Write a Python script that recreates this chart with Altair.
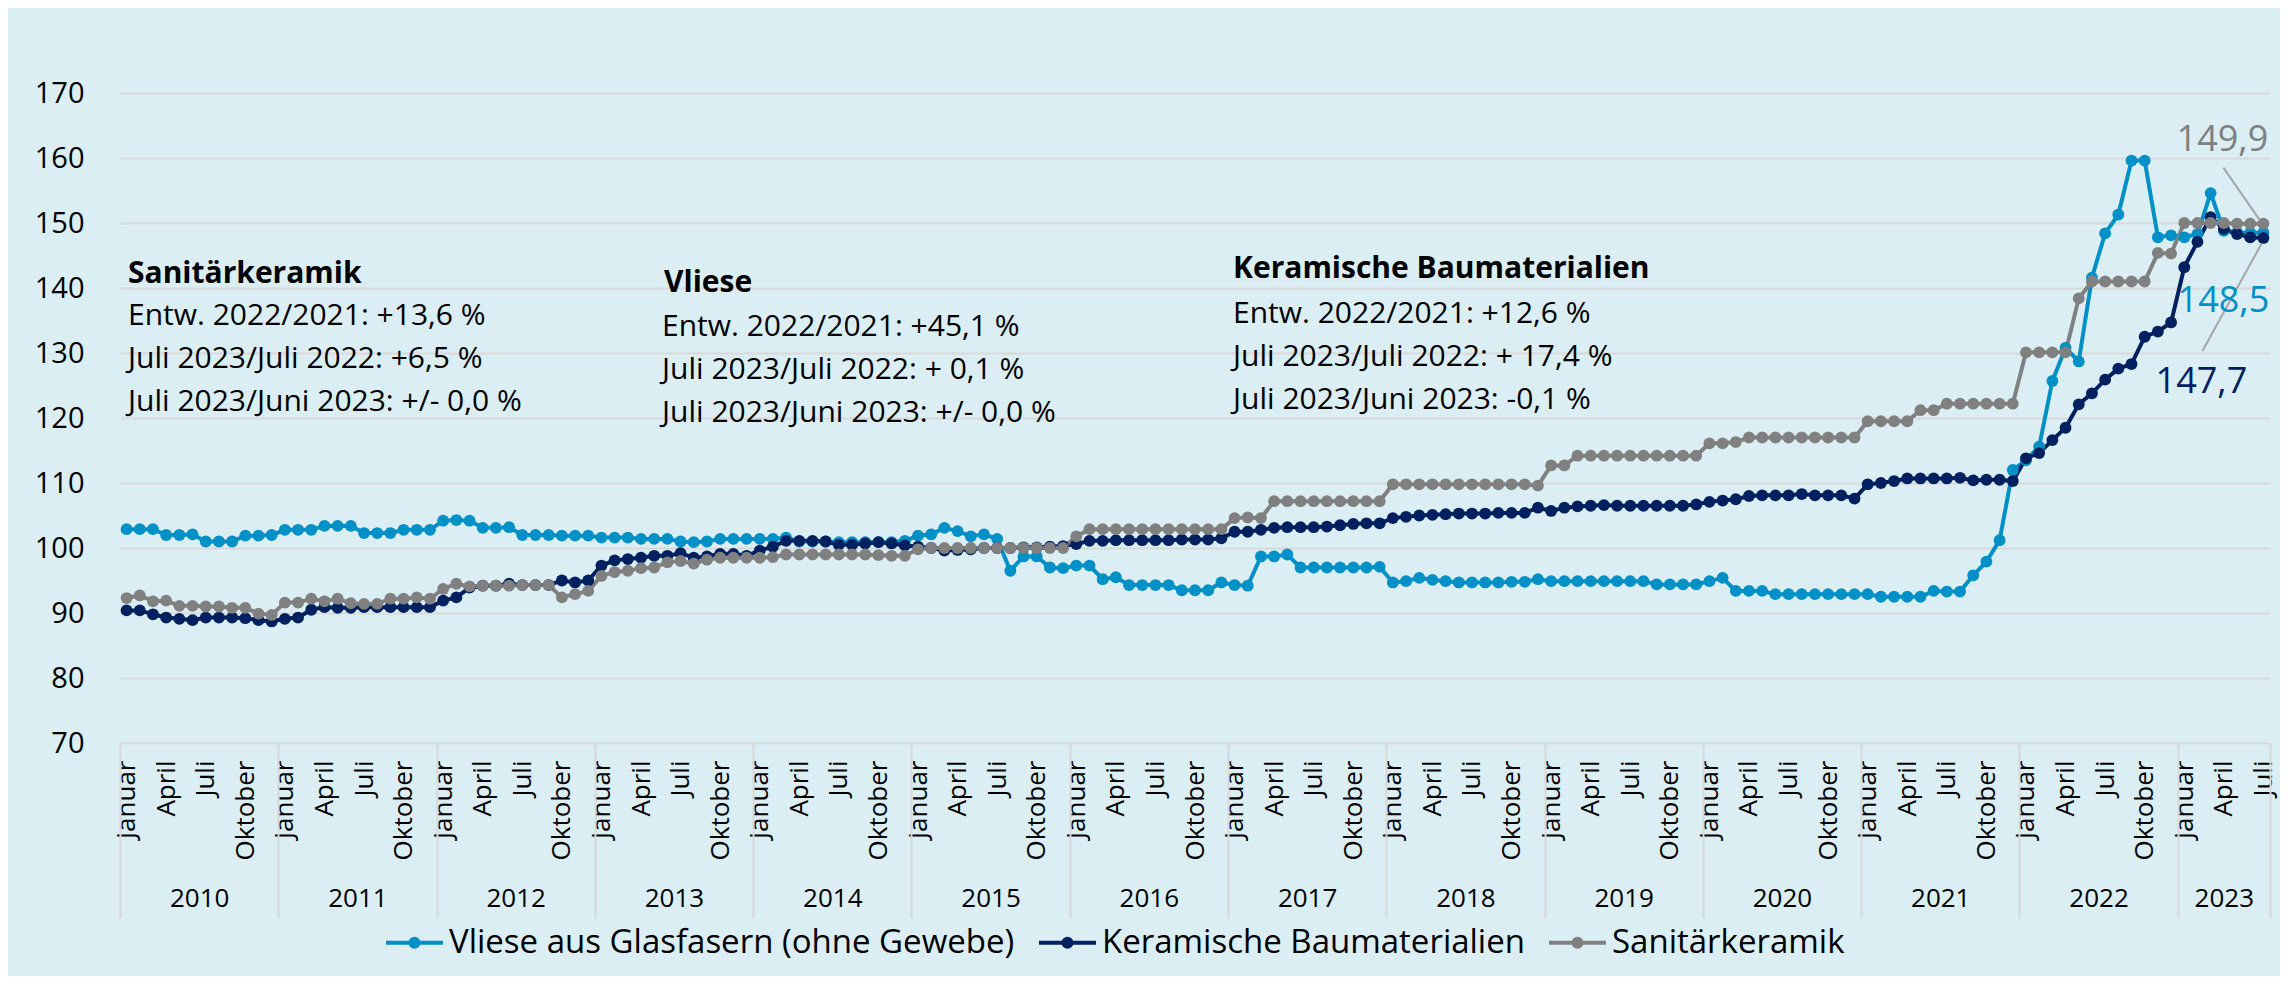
import altair as alt
import pandas as pd

# ---------------- data ----------------
month_names = ["Januar", "Februar", "März", "April", "Mai", "Juni", "Juli",
               "August", "September", "Oktober", "November", "Dezember"]
years = list(range(2010, 2024))
series_names = ["Vliese aus Glasfasern (ohne Gewebe)", "Keramische Baumaterialien", "Sanitärkeramik"]
series_colors = ["#0090C8", "#002060", "#808080"]
y_ticks = [70, 80, 90, 100, 110, 120, 130, 140, 150, 160, 170]

vliese = [
    102.9, 102.9, 102.9, 102.0, 102.0, 102.1, 101.0, 101.0, 101.0, 101.9, 101.9, 102.0,
    102.8, 102.8, 102.8, 103.4, 103.4, 103.4, 102.3, 102.3, 102.3, 102.8, 102.8, 102.8,
    104.2, 104.3, 104.2, 103.1, 103.1, 103.2, 102.0, 102.0, 102.0, 101.9, 101.9, 101.9,
    101.6, 101.6, 101.6, 101.4, 101.4, 101.4, 101.0, 100.9, 101.0, 101.4, 101.4, 101.4,
    101.4, 101.4, 101.6, 101.0, 101.0, 101.0, 100.9, 100.9, 100.9, 100.9, 100.9, 101.1,
    101.9, 102.1, 103.1, 102.6, 101.8, 102.1, 101.4, 96.5, 98.7, 98.7, 97.0, 96.9,
    97.3, 97.3, 95.2, 95.5, 94.3, 94.3, 94.3, 94.3, 93.5, 93.5, 93.5, 94.7,
    94.3, 94.2, 98.7, 98.7, 99.0, 97.0, 97.0, 97.0, 97.0, 97.0, 97.0, 97.1,
    94.7, 94.9, 95.4, 95.1, 94.9, 94.7, 94.7, 94.7, 94.7, 94.8, 94.8, 95.2,
    94.9, 94.9, 94.9, 94.9, 94.9, 94.9, 94.9, 94.9, 94.4, 94.4, 94.4, 94.4,
    94.9, 95.4, 93.4, 93.4, 93.4, 92.9, 92.9, 92.9, 92.9, 92.9, 92.9, 92.9,
    92.9, 92.5, 92.5, 92.5, 92.5, 93.4, 93.3, 93.3, 95.8, 97.9, 101.2, 112.0,
    113.5, 115.6, 125.7, 130.8, 128.7, 141.6, 148.4, 151.3, 159.6, 159.6, 147.8, 148.1,
    147.8, 148.3, 154.6, 148.8, 148.5, 148.5, 148.5,
]

keramik = [
    90.4, 90.4, 89.8, 89.3, 89.1, 88.9, 89.3, 89.3, 89.3, 89.2, 88.9, 88.7,
    89.1, 89.3, 90.5, 90.9, 90.8, 90.8, 90.9, 90.9, 90.9, 90.9, 90.9, 90.9,
    91.9, 92.4, 93.9, 94.2, 94.2, 94.5, 94.3, 94.3, 94.3, 95.0, 94.7, 95.0,
    97.3, 98.1, 98.3, 98.5, 98.8, 98.8, 99.2, 98.5, 98.7, 99.1, 99.1, 98.8,
    99.6, 100.2, 101.1, 101.1, 101.1, 101.0, 100.5, 100.5, 100.7, 100.9, 100.7, 100.4,
    100.2, 100.0, 99.6, 99.7, 99.8, 100.0, 100.0, 100.0, 100.1, 100.1, 100.2, 100.3,
    100.6, 101.1, 101.1, 101.2, 101.2, 101.2, 101.2, 101.2, 101.3, 101.3, 101.3, 101.5,
    102.5, 102.5, 102.8, 103.1, 103.2, 103.2, 103.2, 103.3, 103.5, 103.7, 103.8, 103.8,
    104.6, 104.8, 105.0, 105.1, 105.2, 105.3, 105.3, 105.3, 105.4, 105.4, 105.4, 106.2,
    105.7, 106.2, 106.4, 106.5, 106.6, 106.5, 106.5, 106.5, 106.5, 106.5, 106.5, 106.7,
    107.1, 107.3, 107.5, 108.0, 108.1, 108.1, 108.1, 108.3, 108.1, 108.1, 108.1, 107.6,
    109.8, 110.0, 110.3, 110.7, 110.7, 110.7, 110.7, 110.8, 110.4, 110.5, 110.5, 110.3,
    113.8, 114.6, 116.6, 118.5, 122.1, 123.8, 125.9, 127.6, 128.3, 132.5, 133.3, 134.7,
    143.2, 147.1, 150.9, 149.1, 148.3, 147.8, 147.7,
]

sanitaer = [
    92.3, 92.7, 91.8, 91.9, 91.1, 91.1, 91.0, 91.0, 90.8, 90.8, 89.9, 89.7,
    91.6, 91.6, 92.2, 91.8, 92.2, 91.5, 91.4, 91.4, 92.2, 92.2, 92.4, 92.2,
    93.7, 94.5, 94.1, 94.2, 94.2, 94.2, 94.3, 94.3, 94.3, 92.4, 92.9, 93.4,
    95.7, 96.3, 96.5, 96.9, 97.0, 97.8, 98.0, 97.6, 98.2, 98.5, 98.5, 98.5,
    98.5, 98.6, 99.0, 99.0, 99.0, 99.0, 99.0, 99.0, 99.0, 98.9, 98.8, 98.8,
    99.8, 100.0, 100.0, 100.0, 100.0, 100.0, 100.0, 100.0, 100.0, 100.0, 100.0, 100.0,
    101.8, 102.9, 102.9, 102.9, 102.9, 102.9, 102.9, 102.9, 102.9, 102.9, 102.9, 102.9,
    104.6, 104.7, 104.6, 107.2, 107.2, 107.2, 107.2, 107.2, 107.2, 107.2, 107.2, 107.2,
    109.8, 109.8, 109.8, 109.8, 109.8, 109.8, 109.8, 109.8, 109.8, 109.8, 109.8, 109.6,
    112.7, 112.7, 114.2, 114.2, 114.2, 114.2, 114.2, 114.2, 114.2, 114.2, 114.2, 114.2,
    116.1, 116.1, 116.3, 117.0, 117.0, 117.0, 117.0, 117.0, 117.0, 117.0, 117.0, 117.0,
    119.5, 119.5, 119.5, 119.5, 121.2, 121.2, 122.2, 122.2, 122.2, 122.2, 122.2, 122.2,
    130.1, 130.1, 130.1, 130.1, 138.4, 141.0, 141.0, 141.0, 141.0, 141.0, 145.4, 145.3,
    150.0, 150.0, 150.0, 150.0, 149.9, 149.9, 149.9,
]

anno_sanitaer = ["Sanitärkeramik",
                 "Entw. 2022/2021: +13,6 %",
                 "Juli 2023/Juli 2022: +6,5 %",
                 "Juli 2023/Juni 2023: +/- 0,0 %"]
anno_vliese = ["Vliese",
               "Entw. 2022/2021: +45,1 %",
               "Juli 2023/Juli 2022: + 0,1 %",
               "Juli 2023/Juni 2023: +/- 0,0 %"]
anno_keramik = ["Keramische Baumaterialien",
                "Entw. 2022/2021: +12,6 %",
                "Juli 2023/Juli 2022: + 17,4 %",
                "Juli 2023/Juni 2023: -0,1 %"]

# ---------------- tables ----------------
n = len(vliese)
rows = []
for name, vals in zip(series_names, [vliese, keramik, sanitaer]):
    for i, v in enumerate(vals):
        rows.append({"idx": i, "Jahr": years[i // 12], "Monat": month_names[i % 12],
                     "Wert": v, "Reihe": name})
df = pd.DataFrame(rows)

last = pd.DataFrame({
    "idx": [n - 1] * 3,
    "Wert": [vliese[-1], keramik[-1], sanitaer[-1]],
    "Reihe": series_names,
})
last["Label"] = last["Wert"].map(lambda v: f"{v:.1f}".replace(".", ","))

FONT = "Open Sans"
GRID = "#D9D9D9"

xscale = alt.Scale(domain=[-0.5, n - 0.5], nice=False, zero=False)
yscale = alt.Scale(domain=[70, 170], nice=False, zero=False)
color_scale = alt.Scale(domain=series_names, range=series_colors)

month_js = "[" + ",".join(f"'{m}'" for m in month_names) + "]"
year_js = "[" + ",".join(f"'{y}'" for y in years) + "]"

month_axis = alt.Axis(orient="bottom", values=[i for i in range(n) if i % 3 == 0],
                      labelExpr=f"{month_js}[datum.value % 12]",
                      labelAngle=-90, labelAlign="right", labelBaseline="middle",
                      labelPadding=17, labelFont=FONT, labelFontSize=26, labelColor="#000000",
                      labelOverlap=False, ticks=False, domain=False, grid=False, title=None)

sep_values = [12 * k - 0.5 for k in range(len(years))] + [n - 0.5]
sep_axis = alt.Axis(orient="bottom", values=sep_values, labels=False, ticks=True,
                    tickSize=175, tickColor=GRID, tickWidth=2, domain=False, grid=False,
                    title=None)

year_centers = [(12 * k + min(12 * k + 12, n)) / 2 - 0.5 for k in range(len(years))]
year_axis = alt.Axis(orient="bottom", values=year_centers,
                     labelExpr=f"{year_js}[floor(datum.value / 12)]",
                     labelAlign="center", labelBaseline="top", labelPadding=142,
                     labelFont=FONT, labelFontSize=26, labelColor="#000000",
                     labelOverlap=False, ticks=False, domain=False, grid=False, title=None)

y_axis = alt.Axis(values=y_ticks, grid=True, gridColor=GRID, gridWidth=2, ticks=False,
                  domain=False, labelFont=FONT, labelFontSize=29, labelColor="#000000",
                  labelPadding=36, title=None)

legend_symbol = ("M-1,0H1M0.14,0A0.14,0.14 0 1,1 -0.14,0A0.14,0.14 0 1,1 0.14,0"
                 "M0.05,0A0.05,0.05 0 1,1 -0.05,0A0.05,0.05 0 1,1 0.05,0")
legend = alt.Legend(orient="none", legendX=264, legendY=819, direction="horizontal",
                    title=None, symbolType=legend_symbol, symbolSize=3249,
                    symbolStrokeWidth=4, labelFont=FONT, labelFontSize=33,
                    labelColor="#000000", labelOffset=4, columnPadding=16,
                    labelLimit=2000, padding=0)

base = alt.Chart(df)

lines = base.mark_line(strokeWidth=4).encode(
    x=alt.X("idx:Q", scale=xscale, axis=month_axis),
    y=alt.Y("Wert:Q", scale=yscale, axis=y_axis),
    color=alt.Color("Reihe:N", scale=color_scale, legend=legend, sort=series_names),
)
points = base.mark_point(filled=True, size=140, opacity=1).encode(
    x=alt.X("idx:Q", scale=xscale, axis=None),
    y=alt.Y("Wert:Q", scale=yscale),
    color=alt.Color("Reihe:N", scale=color_scale, legend=None),
)
sep_layer = base.mark_point(opacity=0).encode(
    x=alt.X("idx:Q", scale=xscale, axis=sep_axis))
year_layer = base.mark_point(opacity=0).encode(
    x=alt.X("idx:Q", scale=xscale, axis=year_axis))

label_specs = [  # (series index, dx, dy)
    (2, -41, -84),
    (0, -40, 68),
    (1, -62, 144),
]
value_labels = []
for si, dx, dy in label_specs:
    value_labels.append(
        alt.Chart(last).transform_filter(alt.datum.Reihe == series_names[si])
        .mark_text(dx=dx, dy=dy, font=FONT, fontSize=36, color=series_colors[si],
                   align="center", baseline="middle")
        .encode(x=alt.X("idx:Q", scale=xscale, axis=None),
                y=alt.Y("Wert:Q", scale=yscale), text="Label:N"))

leader_specs = [  # (series index, xOffset, yOffset, x2Offset, y2Offset)
    (2, -4, -4, -40, -56),
    (1, -2, 6, -61, 113),
]
leaders = []
for si, xo, yo, x2o, y2o in leader_specs:
    leaders.append(
        alt.Chart(last).transform_filter(alt.datum.Reihe == series_names[si])
        .mark_rule(color="#A6A6A6", strokeWidth=2, xOffset=xo, yOffset=yo,
                   x2Offset=x2o, y2Offset=y2o)
        .encode(x=alt.X("idx:Q", scale=xscale, axis=None), x2=alt.X2("idx"),
                y=alt.Y("Wert:Q", scale=yscale), y2=alt.Y2("Wert")))

anno_src = alt.Chart(pd.DataFrame({"k": [0]}))
anno_layers = []
for texts, (hx, hy, lx, ly) in [
    (anno_sanitaer, (8, 190, 8, 232)),
    (anno_vliese, (544, 199, 542, 243)),
    (anno_keramik, (1113, 185, 1113, 230)),
]:
    anno_layers.append(anno_src.mark_text(
        x=hx, y=hy, text=texts[0], font=FONT, fontSize=30, fontWeight="bold",
        align="left", baseline="alphabetic", color="#000000"))
    anno_layers.append(anno_src.mark_text(
        x=lx, y=ly, text=texts[1:], lineHeight=43, font=FONT, fontSize=30,
        align="left", baseline="alphabetic", color="#000000"))

chart = alt.layer(
    lines, points, sep_layer, year_layer, *leaders, *value_labels, *anno_layers
).resolve_axis(x="independent").properties(
    width=2150, height=650,
    padding={"left": 112, "top": 85, "right": 10, "bottom": 233},
    autosize=alt.AutoSizeParams(type="none"),
    background="#DAEEF3",
).configure_view(fill="#FFFFFF", stroke=None)

chart.save("out.html", embed_options={"renderer": "svg", "actions": False})
